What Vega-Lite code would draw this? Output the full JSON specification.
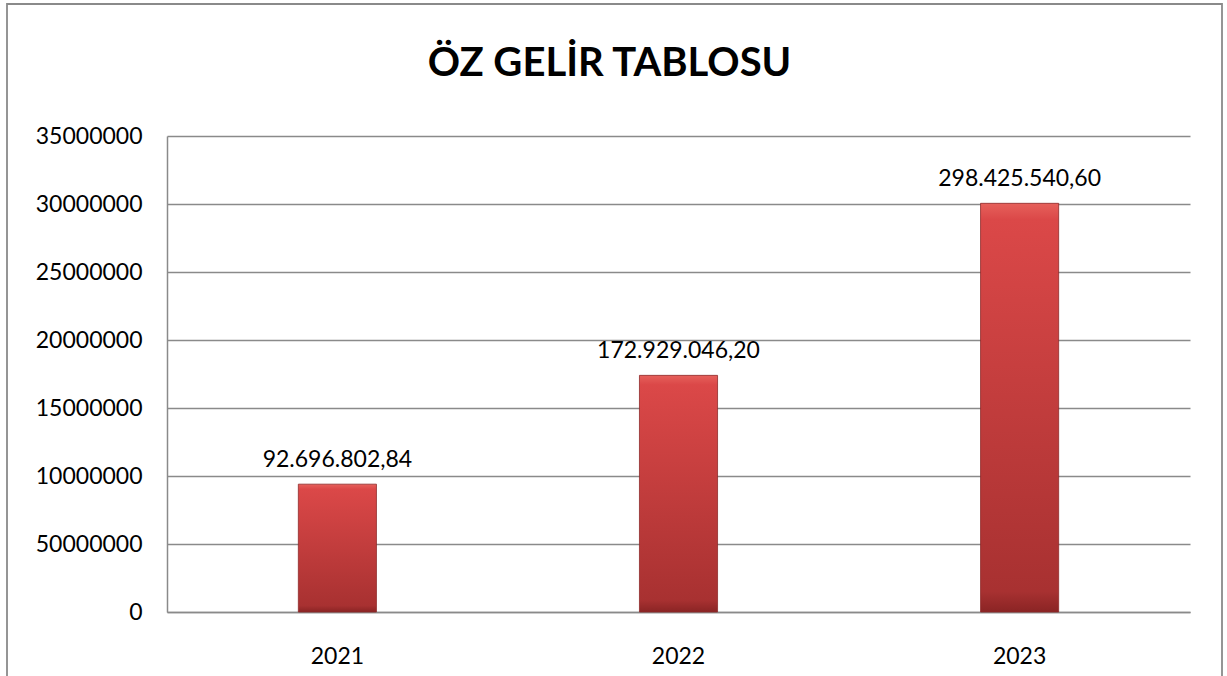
{
  "$schema": "https://vega.github.io/schema/vega-lite/v6.json",
  "width": 1215,
  "height": 700,
  "autosize": {"type": "none"},
  "padding": {"left": 7, "top": 4, "right": 5, "bottom": 0},
  "background": "white",
  "config": {
    "view": {"stroke": "#8a8a8a", "strokeWidth": 1.8},
    "font": "Lato"
  },
  "title": {
    "text": "ÖZ GELİR TABLOSU",
    "font": "Lato",
    "fontSize": 40,
    "fontWeight": "bold",
    "color": "#000000",
    "anchor": "middle",
    "frame": "group",
    "offset": 0,
    "baseline": "alphabetic",
    "dy": 112,
    "dx": -5
  },
  "data": {
    "values": [
      {"year": "2021", "value": 9400000, "label": "92.696.802,84"},
      {"year": "2022", "value": 17400000, "label": "172.929.046,20"},
      {"year": "2023", "value": 30050000, "label": "298.425.540,60"}
    ]
  },
  "encoding": {
    "x": {
      "field": "year",
      "type": "nominal",
      "scale": {"range": [160, 1183], "paddingInner": 0.771, "paddingOuter": 0.385},
      "axis": {
        "title": null,
        "orient": "bottom",
        "offset": -92,
        "ticks": false,
        "grid": false,
        "labelAngle": 0,
        "labelFont": "Lato",
        "labelFontSize": 23,
        "labelColor": "#000000",
        "labelBaseline": "alphabetic",
        "labelPadding": 51,
        "domainColor": "#8a8a8a",
        "domainWidth": 1.5
      }
    },
    "y": {
      "field": "value",
      "type": "quantitative",
      "scale": {"domain": [0, 35000000], "range": [608, 132], "nice": false, "zero": true},
      "axis": {
        "title": null,
        "offset": -160,
        "ticks": false,
        "labelPadding": 25,
        "values": [0, 5000000, 10000000, 15000000, 20000000, 25000000, 30000000, 35000000],
        "labelExpr": "datum.value == 5000000 ? '50000000' : format(datum.value, 'd')",
        "labelFont": "Lato",
        "labelFontSize": 23,
        "labelColor": "#000000",
        "grid": true,
        "gridColor": "#8a8a8a",
        "gridWidth": 1.5,
        "domainColor": "#8a8a8a",
        "domainWidth": 1.5
      }
    }
  },
  "layer": [
    {
      "mark": {
        "type": "bar",
        "color": {
          "gradient": "linear",
          "x1": 0, "y1": 0, "x2": 0, "y2": 1,
          "stops": [
            {"offset": 0, "color": "#e6605b"},
            {"offset": 0.04, "color": "#db4848"},
            {"offset": 0.95, "color": "#a83131"},
            {"offset": 1, "color": "#8a2424"}
          ]
        },
        "stroke": "#8e2a2a",
        "strokeWidth": 0.8
      }
    },
    {
      "mark": {
        "type": "text",
        "dy": -17,
        "baseline": "alphabetic",
        "font": "Lato",
        "fontSize": 23,
        "color": "#000000"
      },
      "encoding": {"text": {"field": "label"}}
    }
  ]
}
